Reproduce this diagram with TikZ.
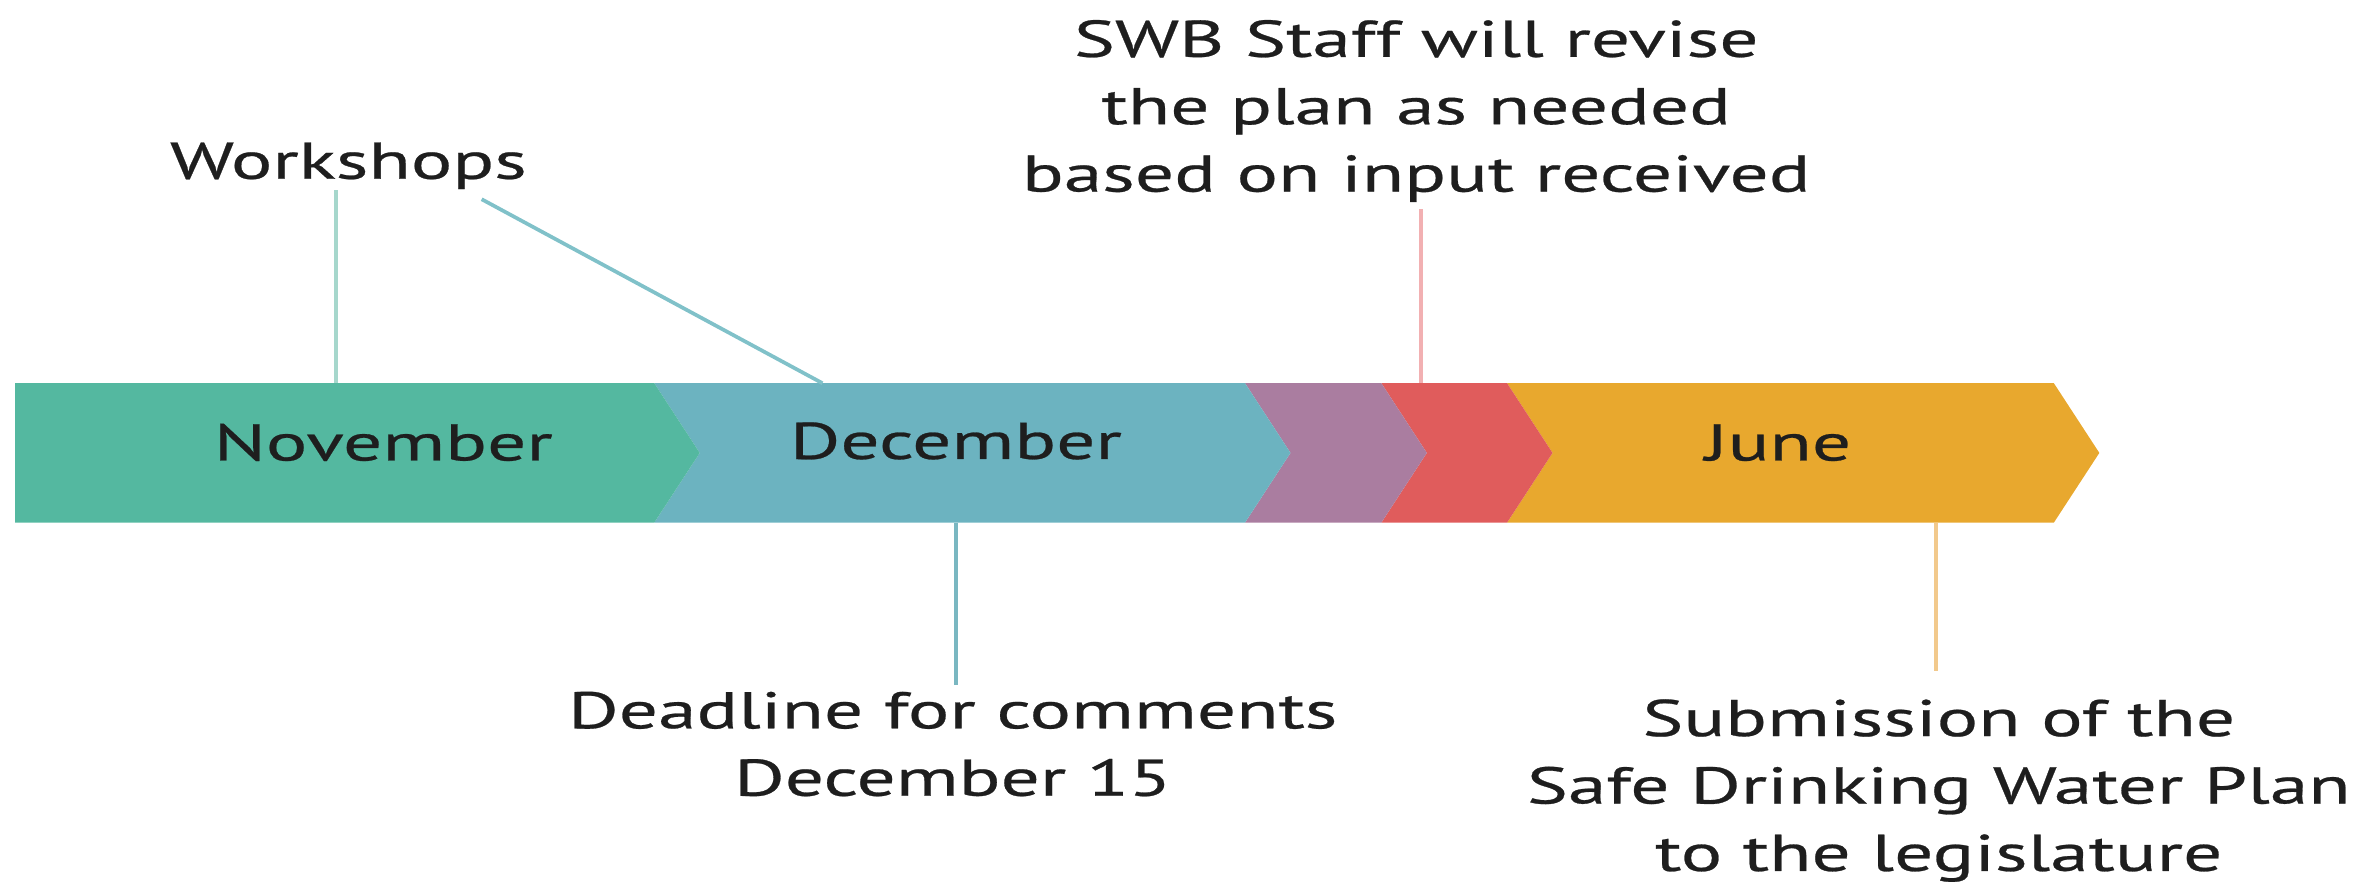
\documentclass[tikz,border=0pt]{standalone}
\usepackage{fontspec}
\setmainfont{PT Sans}[FakeStretch=1.5, FakeBold=0.5]
\definecolor{novgreen}{HTML}{54B8A0}
\definecolor{decblue}{HTML}{6CB3C0}
\definecolor{midpurple}{HTML}{AA7DA0}
\definecolor{midred}{HTML}{E05C5C}
\definecolor{juneorange}{HTML}{E8A82E}
\definecolor{wsgreen}{HTML}{A6D7CC}
\definecolor{wsteal}{HTML}{80C1C9}
\definecolor{revpink}{HTML}{F2B0B2}
\definecolor{ddlteal}{HTML}{7AB7C1}
\definecolor{subgold}{HTML}{F2C98C}
\definecolor{textgray}{HTML}{1E1E1E}
\tikzstyle{note} = [align=center, inner sep=0pt, text=textgray, font=\fontsize{9.7}{12.66}\selectfont]
\tikzstyle{month} = [note, anchor=base]
\tikzstyle{leader} = [line width=0.7pt]

\begin{document}
\begin{tikzpicture}[x=0.1mm, y=-0.1mm]
\useasboundingbox (0,0) rectangle (1568,582);

% Band
\fill[juneorange] (995,253) -- (1356,253) -- (1386,299) -- (1356,345) -- (995,345) -- (1025,299) -- cycle;
\fill[midred] (912,253) -- (995,253) -- (1025,299) -- (995,345) -- (912,345) -- (942,299) -- cycle;
\fill[midpurple] (822,253) -- (912,253) -- (942,299) -- (912,345) -- (822,345) -- (852,299) -- cycle;
\fill[decblue] (432,253) -- (822,253) -- (852,299) -- (822,345) -- (432,345) -- (462,299) -- cycle;
\fill[novgreen] (10,253) -- (432,253) -- (462,299) -- (432,345) -- (10,345) -- cycle;

% Months
\node (nov) [month] at (253,304) {November};
\node (dec) [month] at (631,303) {December};
\node (jun) [month] at (1174,304) {June};

% Notes
\node (workshops) [note, anchor=base] at (230,118) {Workshops};
\node (revise) [note, anchor=south] at (935,134) {SWB Staff will revise\\the plan as needed\\based on input received};
\node (deadline) [note, anchor=north] at (629,456) {Deadline for comments\\December 15};
\node (submission) [note, anchor=north] at (1280,461) {Submission of the\\Safe Drinking Water Plan\\to the legislature};

% Points on the band
\coordinate (wsA) at (222,253);
\coordinate (wsB) at (543,253);
\coordinate (rev) at (938,253);
\coordinate (ddl) at (631,345);
\coordinate (sub) at (1278,345);

% Leaders
\draw [leader, draw=wsgreen] (workshops.south -| wsA) -- (wsA);
\draw [leader, draw=wsteal] ([xshift=8.8mm,yshift=-0.6mm]workshops.south) -- (wsB);
\draw [leader, draw=revpink, shorten <=0.4mm] (revise.south -| rev) -- (rev);
\draw [leader, draw=ddlteal, shorten >=0.4mm] (ddl) -- (deadline.north -| ddl);
\draw [leader, draw=subgold, shorten >=1.8mm] (sub) -- (submission.north -| sub);

\end{tikzpicture}
\end{document}
